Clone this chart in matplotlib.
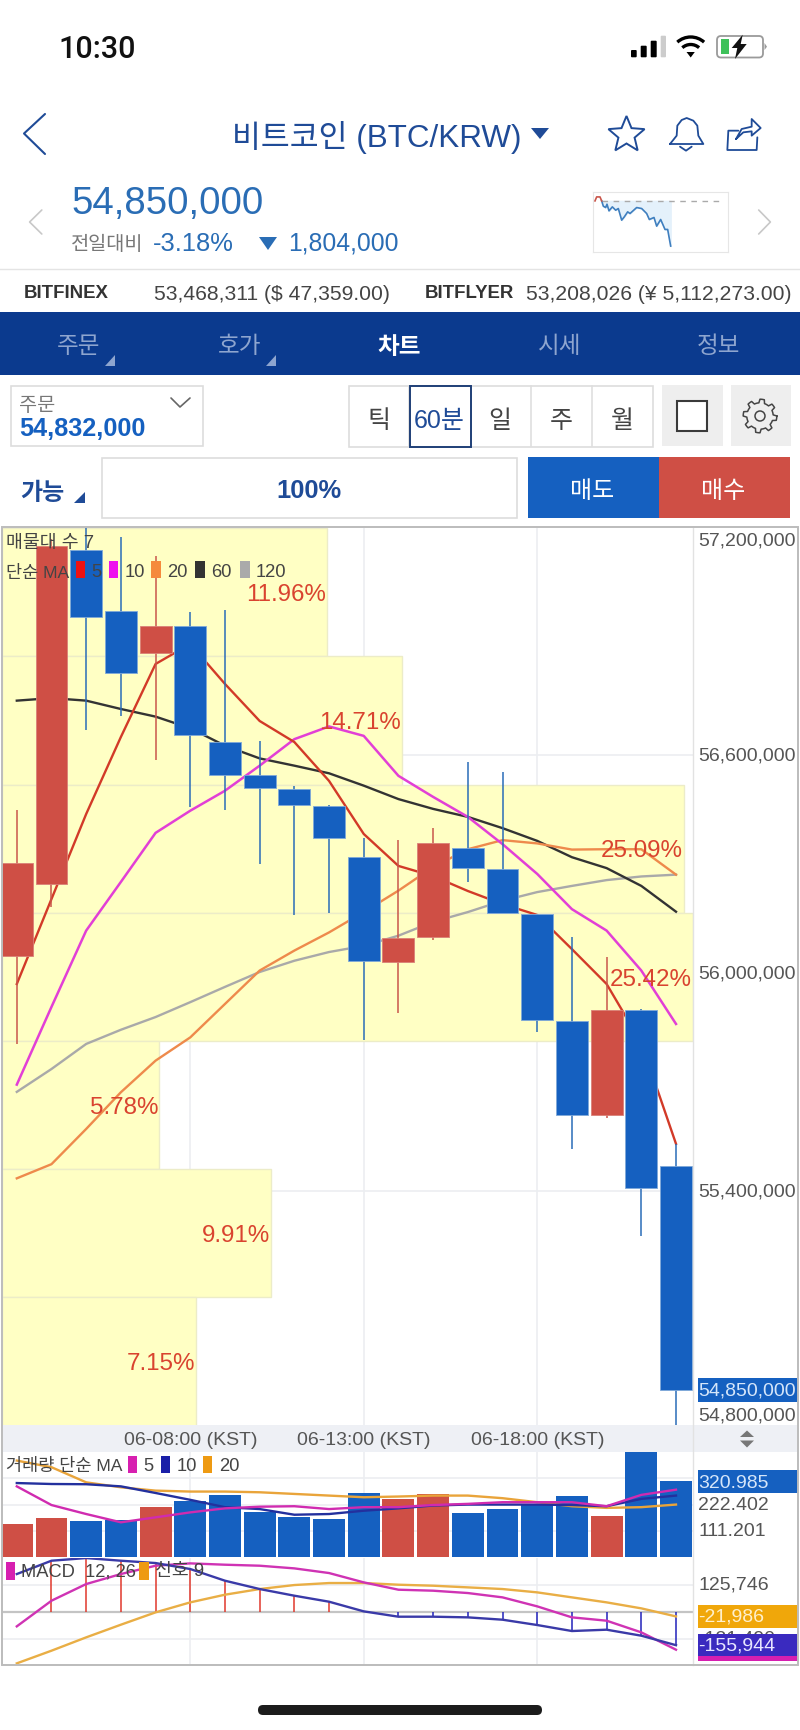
import numpy as np
import matplotlib

matplotlib.use("Agg")
import matplotlib.pyplot as plt
from matplotlib.patches import Arc, Circle, FancyBboxPatch, Polygon, Rectangle

plt.rcParams["font.family"] = ["Liberation Sans", "Noto Sans CJK KR"]

# precios en miles de KRW
apertura = [56046, 56244, 57164, 56995, 56879, 56955, 56634, 56543, 56506, 56458,
            56319, 56029, 56097, 56343, 56285, 56163, 55868, 55608, 55897, 55469]
cierre = [56301, 57175, 56980, 56826, 56955, 56654, 56545, 56508, 56463, 56370,
          56033, 56095, 56356, 56288, 56164, 55870, 55608, 55897, 55407, 54850]
maximo = [56449, 57194, 57224, 57199, 57148, 56993, 56998, 56639, 56514, 56462,
          56370, 56365, 56398, 56579, 56553, 56163, 56097, 56043, 55900, 55529]
minimo = [55804, 56181, 56669, 56707, 56586, 56456, 56449, 56299, 56160, 56164,
          55815, 55889, 56091, 56249, 56164, 55837, 55515, 55600, 55276, 54740]

ma5 = [55969, 56203, 56437, 56649, 56850, 56905, 56795, 56693, 56635, 56528,
       56382, 56294, 56266, 56225, 56189, 56159, 56065, 55969, 55807, 55529]
ma10 = [55692, 55906, 56116, 56250, 56385, 56446, 56501, 56570, 56643, 56678,
        56652, 56542, 56484, 56429, 56354, 56272, 56175, 56116, 56006, 55859]
ma20 = [55434, 55473, 55570, 55671, 55758, 55822, 55914, 56006, 56061, 56111,
        56167, 56226, 56291, 56340, 56365, 56356, 56339, 56340, 56340, 56270]
ma60 = [56749, 56756, 56749, 56726, 56705, 56673, 56625, 56590, 56570, 56549,
        56515, 56478, 56451, 56429, 56398, 56363, 56318, 56288, 56239, 56168]
ma120 = [55672, 55735, 55804, 55843, 55878, 55919, 55961, 56002, 56033, 56057,
         56074, 56102, 56140, 56167, 56198, 56222, 56239, 56255, 56265, 56270]

perfil_bordes = [57224, 56871, 56518, 56165, 55812, 55459, 55106, 54753]
perfil_pct = [11.96, 14.71, 25.09, 25.42, 5.78, 9.91, 7.15]

volumen = [140, 165, 152, 157, 211, 237, 262, 190, 169, 162,
           272, 247, 266, 188, 204, 226, 258, 176, 460, 321]
vol_ma5 = [300, 221, 183, 148, 169, 190, 207, 214, 216, 204,
           212, 212, 221, 226, 233, 233, 233, 216, 264, 286]
vol_ma10 = [314, 310, 309, 300, 272, 243, 212, 204, 180, 183,
            197, 207, 219, 223, 223, 223, 221, 216, 247, 261]
vol_ma20 = [409, 381, 317, 296, 282, 278, 278, 275, 268, 261,
            254, 257, 261, 261, 250, 233, 216, 209, 212, 223]

macd_azul = [175376, 237456, 249872, 237456, 226592, 198656, 144336, 105536, 74496, 46560,
             1552, -23280, -23280, -26384, -37248, -62080, -90016, -83808, -111744, -155944]
macd_magenta = [-68288, 51216, 128816, 175376, 214176, 225040, 218832, 214176, 201760, 180032,
                136576, 102432, 97776, 86912, 66736, 24832, -26384, -41904, -96208, -176928]
macd_senal = [-240560, -181584, -119504, -60528, -3104, 43456, 79152, 105536, 124160, 133472,
              133472, 125712, 121056, 113296, 105536, 90016, 66736, 43456, 15520, -21986]
macd_hist = [0, 237456, 249872, 237456, 226592, 198656, 144336, 105536, 74496, 46560,
             0, -23280, -23280, -26384, -37248, -62080, -90016, -83808, -111744, -155944]

mini_rojo_x = [30, 35, 45, 50]
mini_rojo_y = [52, 40, 40, 52]
mini_azul_x = [50, 55, 62, 66, 72, 82, 92, 100, 110, 118, 128, 135, 155, 170, 185, 193, 207, 215, 227, 240, 248, 257]
mini_azul_y = [52, 68, 72, 62, 82, 70, 80, 75, 110, 100, 85, 90, 72, 75, 90, 108, 102, 128, 108, 138, 138, 188]

horas = ["06-08:00 (KST)", "06-13:00 (KST)", "06-18:00 (KST)"]
hora_pos = [5, 10, 15]

AZUL = "#1560c0"
ROJO = "#cf4f45"
MARINO = "#0b3a8e"
TITULO = "#1f4b97"
PRECIO = "#2a6db5"
GRIS = "#555555"
GRID = "#eceef1"
AMARILLO = "#ffffc4"
ROJO_PCT = "#d9432f"
ANCHO, ALTO = 800, 1731

fig = plt.figure(figsize=(8, 17.31), dpi=100, facecolor="white")


def eje_px(x0, y0, x1, y1, zorder):
    eje = fig.add_axes([x0 / ANCHO, 1 - y1 / ALTO, (x1 - x0) / ANCHO, (y1 - y0) / ALTO], zorder=zorder)
    return eje


def preparar(eje, abajo, arriba):
    eje.set_xlim(-0.4265, 19.49)
    eje.set_ylim(abajo, arriba)
    eje.set_xticks(hora_pos)
    eje.set_xticklabels([])
    eje.tick_params(length=0, labelleft=False)
    for lado in eje.spines.values():
        lado.set_visible(False)
    eje.grid(True, color=GRID, linewidth=1.2, zorder=1)
    eje.set_axisbelow(True)


indices = np.arange(len(cierre))

# panel de precio
eje = eje_px(2, 528, 693, 1426, 2)
preparar(eje, 54755, 57227)
eje.set_yticks([56600, 56000, 55400])
escala = (19.49 + 0.4265) / 25.42
for i, pct in enumerate(perfil_pct):
    alto = perfil_bordes[i] - perfil_bordes[i + 1]
    eje.barh(perfil_bordes[i + 1], pct * escala, height=alto, left=-0.4265, align="edge",
             color=AMARILLO, edgecolor="#ececc8", linewidth=1, zorder=2)
    eje.text(-0.4265 + pct * escala - 0.03, perfil_bordes[i + 1] + alto / 2 - 5, "%.2f%%" % pct,
             color=ROJO_PCT, fontsize=17.4, ha="right", va="center", zorder=6)
eje.plot(indices, ma120, color="#a9a9a9", lw=1.7, zorder=3)
eje.plot(indices, ma60, color="#333333", lw=1.7, zorder=3)
eje.plot(indices, ma20, color="#ee8a4c", lw=1.7, zorder=3)
eje.plot(indices, ma10, color="#e23fd6", lw=1.8, zorder=3)
eje.plot(indices, ma5, color="#d23a28", lw=1.7, zorder=3)
for i in indices:
    color = ROJO if cierre[i] >= apertura[i] else AZUL
    mecha = "#c9564b" if cierre[i] >= apertura[i] else "#2a6cb8"
    eje.vlines(i, minimo[i], maximo[i], color=mecha, lw=1.1, zorder=4)
    eje.bar(i, abs(cierre[i] - apertura[i]), bottom=min(apertura[i], cierre[i]), width=0.92,
            color=color, edgecolor="#7fa8d8" if color == AZUL else "#d98078", linewidth=0.6, zorder=5)

# panel de volumen
eje_vol = eje_px(2, 1452.7, 693, 1558.3, 2)
preparar(eje_vol, 0, 446.6)
eje_vol.set_yticks([111.201, 222.402, 333.603])
eje_vol.bar(indices, volumen, width=0.92, zorder=2,
            color=[ROJO if c >= a else AZUL for a, c in zip(apertura, cierre)])
eje_vol.plot(indices, vol_ma20, color="#e9a43a", lw=1.7, zorder=3)
eje_vol.plot(indices, vol_ma10, color="#23309e", lw=1.7, zorder=3)
eje_vol.plot(indices, vol_ma5, color="#d02bb0", lw=1.7, zorder=3)

# panel MACD
eje_macd = eje_px(2, 1559.3, 693, 1665.7, 2)
preparar(eje_macd, -246821, 248684)
eje_macd.set_yticks([-125746, 125746])
eje_macd.axhline(0, color="#c4c4c4", lw=1.6, zorder=2)
for i, valor in enumerate(macd_hist):
    if valor != 0:
        eje_macd.vlines(i, 0, valor, color="#e0382c" if valor > 0 else "#2222bb", lw=1.1, zorder=2)
eje_macd.plot(indices, macd_senal, color="#e9ae45", lw=1.7, zorder=3)
eje_macd.plot(indices, macd_magenta, color="#cf33b4", lw=1.7, zorder=3)
eje_macd.plot(indices, macd_azul, color="#3a3aa8", lw=1.7, zorder=3)

# mini grafico de la cabecera
eje_mini = eje_px(593, 192.6, 728, 252.7, 4)
eje_mini.set_xlim(24, 429)
eje_mini.set_ylim(205, 24)
eje_mini.set_xticks([])
eje_mini.set_yticks([])
for lado in eje_mini.spines.values():
    lado.set_color("#e6e6e6")
eje_mini.fill_between(mini_azul_x, mini_azul_y, 52, color="#e4f1fb", zorder=1)
eje_mini.plot([50, 415], [52, 52], color="#aaaaaa", lw=1, dashes=(4, 4), zorder=2)
eje_mini.plot(mini_azul_x, mini_azul_y, color="#3f7fbf", lw=1.2, zorder=3)
eje_mini.plot(mini_rojo_x, mini_rojo_y, color="#c9564b", lw=1.2, zorder=3)

# capa en pixeles para la interfaz
capa = fig.add_axes([0, 0, 1, 1], zorder=10)
capa.set_xlim(0, ANCHO)
capa.set_ylim(ALTO, 0)
capa.axis("off")
capa.patch.set_alpha(0)


def texto(x, y, cadena, tam, color="#333333", ha="left", **kw):
    capa.text(x, y, cadena, fontsize=tam, color=color, ha=ha, va="center", **kw)


def caja(x0, y0, x1, y1, relleno="none", borde="none", lw=1.0, zorder=1):
    capa.add_patch(Rectangle((x0, y0), x1 - x0, y1 - y0, facecolor=relleno, edgecolor=borde, linewidth=lw, zorder=zorder))


def trazo(xs, ys, color, lw=1.5):
    capa.plot(xs, ys, color=color, lw=lw, solid_capstyle="round", solid_joinstyle="round")


def triangulo(puntos, color):
    capa.add_patch(Polygon(puntos, closed=True, facecolor=color, edgecolor="none"))


# barra de estado
texto(58, 49, "10:30", 22, "#111111", family=["Roboto", "Liberation Sans"], weight="medium")
for x0, x1, y0, color in [(631, 636.7, 51, "black"), (640.7, 646.7, 46.7, "black"),
                          (650.7, 656.7, 41.7, "black"), (660.7, 666, 36.7, "#cccccc")]:
    capa.add_patch(FancyBboxPatch((x0, y0), x1 - x0, 58.3 - y0, boxstyle="round,pad=0,rounding_size=1",
                                  facecolor=color, edgecolor="none"))
for radio in [20, 12.5]:
    capa.add_patch(Arc((690.7, 58), 2 * radio, 2 * radio, theta1=228, theta2=312, color="black", lw=2.4))
triangulo([(686.5, 53), (694.8, 53), (690.7, 58.5)], "black")
capa.add_patch(FancyBboxPatch((717, 37), 46, 21.5, boxstyle="round,pad=0,rounding_size=4",
                              facecolor="white", edgecolor="#9a9a9a", linewidth=1.3))
caja(721, 40, 728.5, 55, "#3ec15a")
triangulo([(742.7, 35.7), (731.7, 49), (737.3, 49), (735, 60), (746.7, 45), (740.7, 45)], "#111111")
triangulo([(764.5, 44), (767, 47.7), (764.5, 51)], "#9a9a9a")

# cabecera
trazo([45, 24, 45], [115, 134.5, 155], TITULO, 1.5)
texto(232, 137, "비트코인 (BTC/KRW)", 22.6, TITULO)
triangulo([(531, 129), (549, 129), (540, 140)], TITULO)
angulos = np.radians(np.arange(10) * 36 - 90)
radios = np.where(np.arange(10) % 2 == 0, 19, 8.5)
capa.add_patch(Polygon(np.c_[626.5 + radios * np.cos(angulos), 136 + radios * np.sin(angulos)],
                       closed=True, facecolor="none", edgecolor=TITULO, linewidth=1.4))
campana_x = np.array([150, 170, 172, 185, 200, 220, 232, 235, 250, 150]) / 3 + 620
campana_y = np.array([360, 335, 305, 288, 282, 290, 305, 335, 360, 360]) / 3 + 25
trazo(campana_x, campana_y, TITULO, 1.3)
trazo(np.array([180, 198, 215]) / 3 + 620, np.array([368, 380, 368]) / 3 + 25, TITULO, 1.3)
trazo(np.array([355, 325, 322, 410, 412]) / 3 + 620, np.array([320, 320, 378, 378, 340]) / 3 + 25, TITULO, 1.3)
trazo(np.array([348, 365, 395, 395, 422, 395, 395, 370, 348]) / 3 + 620,
      np.array([345, 315, 308, 285, 312, 335, 322, 325, 345]) / 3 + 25, TITULO, 1.3)

trazo([41.8, 29.6, 41.8], [211, 223, 235], "#c8c8c8", 1.2)
trazo([758.7, 770.4, 758.7], [211, 223, 235], "#c8c8c8", 1.2)
texto(71, 204, "54,850,000", 27.6, PRECIO)
texto(71, 245, "전일대비", 14.2, "#777777")
texto(153, 244, "-3.18%", 18.4, PRECIO)
triangulo([(259, 238), (277, 238), (268, 251)], PRECIO)
texto(288, 244, "1,804,000", 17.8, PRECIO)
capa.plot([0, 800], [270, 270], color="#e4e4e4", lw=1)
texto(23.5, 294, "BITFINEX", 13.4, "#333333", weight="bold")
texto(154, 294, "53,468,311 ($ 47,359.00)", 15.2, "#444444")
texto(424.5, 294, "BITFLYER", 13.4, "#333333", weight="bold")
texto(525.5, 294, "53,208,026 (¥ 5,112,273.00)", 15.2, "#444444")

# pestanas
caja(0, 313, 800, 376, MARINO)
for x, nombre in [(79, "주문"), (240, "호가"), (560, "시세"), (718, "정보")]:
    texto(x, 347, nombre, 17, "#8ea5cf", ha="center")
texto(399, 347, "차트", 17, "white", ha="center", weight="bold")
for x in [115, 276]:
    triangulo([(x - 10, 367), (x, 367), (x, 356)], "#8ea5cf")

# fila de controles
caja(10.5, 386.5, 202.5, 447, "white", "#dddddd", 1.2)
texto(19, 406, "주문", 14.2, "#777777")
texto(19, 429, "54,832,000", 18.2, AZUL, weight="bold")
trazo([171, 180, 190], [399, 408, 399], "#666666", 1.2)
caja(348.5, 386.5, 653, 447.5, "white", "#dddddd", 1.2)
for x in [409, 470.5, 531, 592]:
    capa.plot([x, x], [387, 447], color="#dddddd", lw=1.1)
caja(409.5, 386.5, 471, 448, "white", "#1f3f77", 1.4, zorder=2)
for x, nombre in [(379, "틱"), (500, "일"), (561, "주"), (622, "월")]:
    texto(x, 421, nombre, 18, "#444444", ha="center", zorder=3)
texto(439, 421, "60분", 18, TITULO, ha="center", zorder=3)
caja(662, 386, 722.5, 447, "#eeeeee")
caja(676.5, 402, 707, 432, "white", "#3a3a3a", 1.5)
caja(730.6, 386, 791, 447, "#eeeeee")
ang_gear = np.linspace(0, 2 * np.pi, 73)
radio_gear = 15 + 1.8 * np.sign(np.sin(8 * ang_gear + 0.4))
capa.plot(760 + radio_gear * np.cos(ang_gear), 417 + radio_gear * np.sin(ang_gear), color="#444444", lw=1.1)
capa.add_patch(Circle((760, 417), 5, facecolor="none", edgecolor="#444444", lw=1.1))

texto(20, 494, "가능", 17.3, TITULO, weight="bold")
triangulo([(74, 504), (85, 504), (85, 493)], TITULO)
caja(102, 459, 517, 518.6, "white", "#dddddd", 1.2)
texto(309, 491, "100%", 18.4, TITULO, ha="center", weight="bold")
caja(527.5, 458, 659, 519, AZUL)
caja(659, 458, 790, 519, ROJO)
texto(592, 492, "매도", 17.3, "white", ha="center")
texto(723.5, 492, "매수", 17.3, "white", ha="center")

# marco del grafico
caja(1.5, 527.5, 798, 1666, "none", "#bcbcbc", 1.4, zorder=8)
capa.plot([693, 693], [528, 1666], color="#e2e2e2", lw=1)
caja(2, 1426, 797, 1452.7, "#eef0f5")
for pos, etiqueta in zip(hora_pos, horas):
    texto(16.8 + 34.7 * pos, 1441, etiqueta, 14, GRIS, ha="center")
triangulo([(747, 1431.5), (740, 1438), (754, 1438)], "#777777")
triangulo([(747, 1448.5), (740, 1441.5), (754, 1441.5)], "#777777")

# leyendas
texto(6, 544, "매물대 수 7", 13.2, "#444444")
texto(6, 572.7, "단순 MA", 12.6, "#444444")
for x0, color, etiqueta in [(75.5, "#ee1111", "5"), (108.7, "#ee11ee", "10"), (151, "#f58a3c", "20"),
                            (195, "#333333", "60"), (240, "#aaaaaa", "120")]:
    caja(x0, 562, x0 + 9.5, 579, color)
    texto(x0 + 16, 572.7, etiqueta, 13.2, "#444444")
texto(6, 1466.5, "거래량 단순 MA", 12.6, "#444444")
for x0, color, etiqueta in [(127.5, "#d71fb0", "5"), (160.7, "#1a1fa8", "10"), (203, "#ee9a12", "20")]:
    caja(x0, 1456.7, x0 + 9.3, 1474, color)
    texto(x0 + 16, 1466.5, etiqueta, 13.2, "#444444")
caja(6, 1563, 15, 1580.7, "#d71fb0")
texto(21.4, 1571.7, "MACD  12, 26", 13.2, "#444444")
caja(139, 1563, 148.5, 1580.7, "#ee9a12")
texto(154.6, 1571.7, "신호 9", 13.2, "#444444")

# etiquetas de la derecha
for y, etiqueta in [(541, "57,200,000"), (755.7, "56,600,000"), (974, "56,000,000"),
                    (1191.7, "55,400,000"), (1416, "54,800,000")]:
    texto(698, y, etiqueta, 14, GRIS)
caja(698, 1379, 797.5, 1403, AZUL)
texto(698, 1391.5, "54,850,000", 14, "#d5e6fa")
caja(698, 1471, 797.5, 1494, AZUL)
texto(698, 1483.3, "320.985", 14, "#d5e6fa")
texto(698, 1506, "222.402", 14, GRIS)
texto(698, 1531.7, "111.201", 14, GRIS)
texto(698, 1585, "125,746", 14, GRIS)
texto(698, 1613, "3,154", 14, GRIS)
texto(698, 1639, "-121,490", 14, GRIS)
caja(698, 1606, 797.5, 1629, "#f0a70a", zorder=3)
texto(698, 1617.5, "-21,986", 14, "#fff0cc", zorder=4)
caja(698, 1635, 797.5, 1657.5, "#3a2abf", zorder=3)
caja(698, 1657.5, 797.5, 1662.5, "#d61fb0", zorder=3)
texto(698, 1646.5, "-155,944", 14, "#e8e6ff", zorder=4)

capa.add_patch(FancyBboxPatch((258, 1706), 284, 10, boxstyle="round,pad=0,rounding_size=5",
                              facecolor="#1c1c1c", edgecolor="none"))

fig.savefig("out.png", dpi=100)
plt.close(fig)
